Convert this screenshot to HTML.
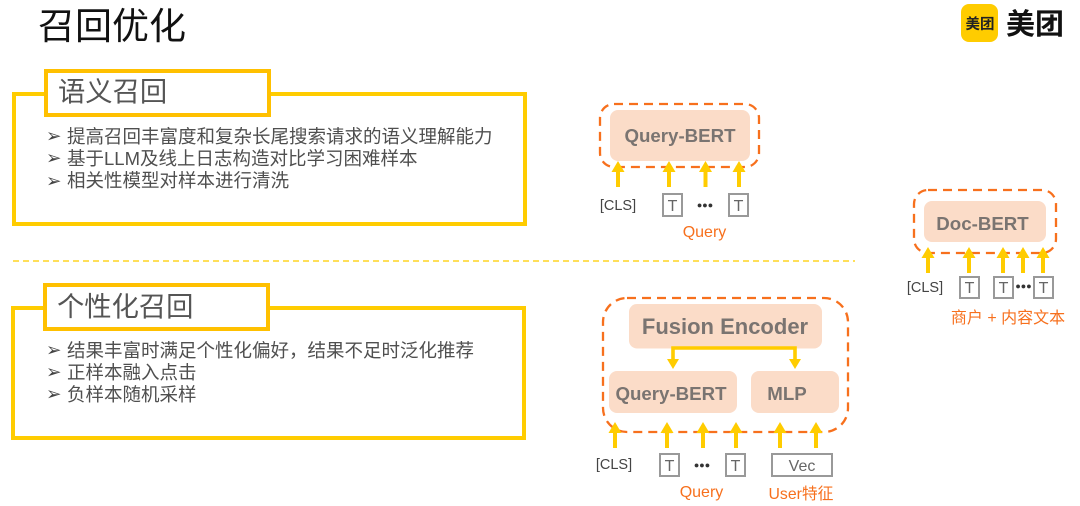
<!DOCTYPE html>
<html><head><meta charset="utf-8"><style>
html,body{margin:0;padding:0;background:#fff}
svg{display:block}
text{font-family:"Liberation Sans","Noto Sans CJK SC",sans-serif}
.b{font-size:18.5px;fill:#4f4f4f}
.g{font-size:18.5px;fill:#444}
.h{font-size:27.3px;fill:#555}
.m{font-size:18.7px;font-weight:700;fill:#7a7471;text-anchor:middle}
.t{font-size:14.5px;fill:#444;text-anchor:middle}
.u{font-size:16px;fill:#666;text-anchor:middle}
.o{font-size:15.5px;fill:#f7701d;text-anchor:middle}
.s{font-size:9px;fill:#333;text-anchor:middle}
.bx{fill:#fff;stroke:#999;stroke-width:2}
.d{fill:none;stroke:#f7701d;stroke-width:2.3;stroke-dasharray:9 6}
.p{fill:#fbdcc8}
</style></head><body>
<svg width="1080" height="506" viewBox="0 0 1080 506" xmlns="http://www.w3.org/2000/svg">
<defs>
<g id="a"><rect x="-2" y="8" width="4" height="18" fill="#ffcc00"/><path d="M-6.500 11 0 0 6.500 11Z" fill="#ffcc00"/></g>
<g id="ad"><path d="M-6-10H6L0 0Z" fill="#ffcc00"/></g>
</defs>
<text x="38" y="39" style="font-size:37px;fill:#111">召回优化</text>
<rect x="961" y="4" width="37" height="38" rx="8" fill="#ffcc00"/>
<text x="980" y="29" text-anchor="middle" style="font-size:14.5px;fill:#222;font-weight:700">美团</text>
<text x="1006" y="34" style="font-size:29px;fill:#111;font-weight:700">美团</text>

<rect x="14" y="94" width="511" height="130" fill="none" stroke="#ffcc00" stroke-width="4"/>
<rect x="46" y="71" width="223" height="44" fill="#fff" stroke="#ffc000" stroke-width="4"/>
<text x="58" y="101" class="h">语义召回</text>
<text x="46" y="142" class="g">➢</text><text x="67" y="143" class="b">提高召回丰富度和复杂长尾搜索请求的语义理解能力</text>
<text x="46" y="164" class="g">➢</text><text x="67" y="165" class="b">基于LLM及线上日志构造对比学习困难样本</text>
<text x="46" y="187" class="g">➢</text><text x="67" y="187" class="b">相关性模型对样本进行清洗</text>

<line x1="13" y1="261" x2="855" y2="261" stroke="#ffdf5a" stroke-width="2" stroke-dasharray="6 4"/>

<rect x="13" y="308" width="511" height="130" fill="none" stroke="#ffcc00" stroke-width="4"/>
<rect x="45" y="285" width="223" height="44" fill="#fff" stroke="#ffc000" stroke-width="4"/>
<text x="57" y="316" class="h">个性化召回</text>
<text x="46" y="356" class="g">➢</text><text x="67" y="357" class="b">结果丰富时满足个性化偏好，结果不足时泛化推荐</text>
<text x="46" y="378" class="g">➢</text><text x="67" y="379" class="b">正样本融入点击</text>
<text x="46" y="400" class="g">➢</text><text x="67" y="401" class="b">负样本随机采样</text>

<!-- Query-BERT top -->
<rect x="600" y="104" width="159" height="63" rx="14" class="d"/>
<rect x="610" y="110" width="140" height="51" rx="8" class="p"/>
<text x="680" y="142" class="m">Query-BERT</text>
<use href="#a" x="618" y="161"/>
<use href="#a" x="669" y="161"/>
<use href="#a" x="705.500" y="161"/>
<use href="#a" x="739" y="161"/>
<text x="618" y="210" class="t">[CLS]</text>
<rect x="663" y="194" width="19" height="22" class="bx"/><text x="672.500" y="211" class="u">T</text>
<text x="705" y="208" class="s">●●●</text>
<rect x="729" y="194" width="19" height="22" class="bx"/><text x="738.500" y="211" class="u">T</text>
<text x="704.500" y="237" class="o" style="font-size:16px">Query</text>

<!-- Doc-BERT -->
<rect x="914" y="190" width="142" height="63" rx="14" class="d"/>
<rect x="924" y="201" width="122" height="41" rx="8" class="p"/>
<text x="982.500" y="230" class="m">Doc-BERT</text>
<use href="#a" x="928" y="247"/>
<use href="#a" x="969" y="247"/>
<use href="#a" x="1003" y="247"/>
<use href="#a" x="1023" y="247"/>
<use href="#a" x="1043" y="247"/>
<text x="925" y="292" class="t">[CLS]</text>
<rect x="960" y="277" width="19" height="21" class="bx"/><text x="969.500" y="293" class="u">T</text>
<rect x="994" y="277" width="19" height="21" class="bx"/><text x="1003.500" y="293" class="u">T</text>
<text x="1023.500" y="289" class="s">●●●</text>
<rect x="1034" y="277" width="19" height="21" class="bx"/><text x="1043.500" y="293" class="u">T</text>
<text x="1008" y="323" class="o" style="font-size:16px">商户 + 内容文本</text>

<!-- Fusion -->
<rect x="603" y="298" width="245" height="134" rx="24" class="d"/>
<rect x="629" y="304" width="193" height="44.500" rx="8" class="p"/>
<text x="725" y="334" class="m" style="font-size:22px">Fusion Encoder</text>
<path d="M673 362V348H795V362" fill="none" stroke="#ffcc00" stroke-width="3.6"/>
<use href="#ad" x="673" y="369"/><use href="#ad" x="795" y="369"/>
<rect x="609" y="371" width="128" height="42" rx="8" class="p"/>
<text x="671" y="400" class="m">Query-BERT</text>
<rect x="751" y="371" width="88" height="42" rx="8" class="p"/>
<text x="787" y="400" class="m">MLP</text>
<use href="#a" x="615" y="422"/>
<use href="#a" x="667" y="422"/>
<use href="#a" x="703" y="422"/>
<use href="#a" x="736" y="422"/>
<use href="#a" x="780" y="422"/>
<use href="#a" x="816" y="422"/>
<text x="614" y="469" class="t">[CLS]</text>
<rect x="660" y="454" width="19" height="22" class="bx"/><text x="669.500" y="471" class="u">T</text>
<text x="702" y="468" class="s">●●●</text>
<rect x="726" y="454" width="19" height="22" class="bx"/><text x="735.500" y="471" class="u">T</text>
<rect x="772" y="454" width="60" height="22" class="bx"/><text x="802" y="471" class="u">Vec</text>
<text x="701.500" y="497" class="o" style="font-size:16px">Query</text>
<text x="801" y="499" class="o" style="font-size:15.800px">User特征</text>
</svg>
</body></html>
